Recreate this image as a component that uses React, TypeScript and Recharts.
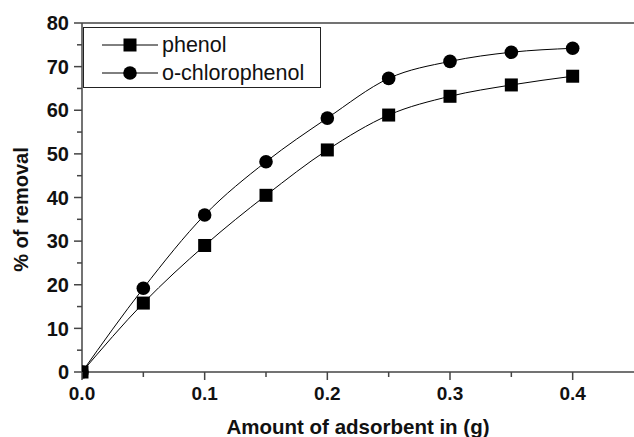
import React from 'react';
import { LineChart, Line, XAxis, YAxis, ReferenceLine, Label } from 'recharts';

const amounts = [0, 0.05, 0.1, 0.15, 0.2, 0.25, 0.3, 0.35, 0.4];
const phenol = [0, 15.8, 29.0, 40.5, 50.9, 58.9, 63.2, 65.8, 67.8];
const oChlorophenol = [0, 19.2, 36.0, 48.2, 58.2, 67.3, 71.2, 73.3, 74.2];

const xTicks = [0, 0.05, 0.1, 0.15, 0.2, 0.25, 0.3, 0.35, 0.4];
const yTicks = [0, 5, 10, 15, 20, 25, 30, 35, 40, 45, 50, 55, 60, 65, 70, 75, 80];

const seriesNames = ['phenol', 'o-chlorophenol'];

const data = amounts.map((x, i) => ({ x, phenol: phenol[i], ocp: oChlorophenol[i] }));

const FONT = '"Liberation Sans", Arial, sans-serif';
const AXIS = '#444';

const SquareDot = (props: any) => {
  const { cx, cy } = props;
  if (cx == null || cy == null) return null;
  return <rect x={cx - 6.5} y={cy - 6.5} width={13} height={13} fill="#000" />;
};

const CircleDot = (props: any) => {
  const { cx, cy } = props;
  if (cx == null || cy == null) return null;
  return <circle cx={cx} cy={cy} r={6.8} fill="#000" />;
};

const XTick = (props: any) => {
  const { x, y, payload } = props;
  const v = payload.value;
  const major = Math.abs(v * 10 - Math.round(v * 10)) < 1e-6;
  return (
    <g>
      <line x1={x} x2={x} y1={y} y2={y + (major ? 8 : 5)} stroke={AXIS} strokeWidth={1.5} />
      {major && (
        <text x={x} y={y + 28} textAnchor="middle" fontFamily={FONT} fontWeight="bold" fontSize={19} fill="#111">
          {v.toFixed(1)}
        </text>
      )}
    </g>
  );
};

const YTick = (props: any) => {
  const { x, y, payload } = props;
  const v = payload.value;
  const major = v % 10 === 0;
  return (
    <g>
      <line x1={x} x2={x - (major ? 8 : 5)} y1={y} y2={y} stroke={AXIS} strokeWidth={1.5} />
      {major && (
        <text x={x - 13} y={y} dy="0.36em" textAnchor="end" fontFamily={FONT} fontWeight="bold" fontSize={20} fill="#111">
          {v}
        </text>
      )}
    </g>
  );
};

const LegendBox = () => (
  <div
    style={{
      position: 'absolute',
      left: 83,
      top: 27,
      boxSizing: 'border-box',
      width: 238,
      height: 61,
      border: '1.5px solid #222',
      background: '#fff',
      paddingTop: 3,
    }}
  >
    {seriesNames.map((name, i) => (
      <div key={name} style={{ display: 'flex', alignItems: 'center', height: 28 }}>
        <svg width={78} height={28} style={{ display: 'block' }}>
          <line x1={18} x2={74} y1={14} y2={14} stroke="#000" strokeWidth={1} />
          {i === 0 ? (
            <rect x={39.5} y={7.5} width={13} height={13} fill="#000" />
          ) : (
            <circle cx={46} cy={14} r={6.8} fill="#000" />
          )}
        </svg>
        <span style={{ fontFamily: FONT, fontSize: 21.5, color: '#111', whiteSpace: 'nowrap' }}>{name}</span>
      </div>
    ))}
  </div>
);

export default function App() {
  return (
    <div style={{ position: 'absolute', left: 0, top: 0, width: 634, height: 437, background: '#fff' }}>
      <LineChart width={634} height={437} data={data} margin={{ top: 23, right: 0, bottom: 0, left: 0 }}>
        <XAxis
          type="number"
          dataKey="x"
          domain={[0, 0.45]}
          ticks={xTicks}
          interval={0}
          tickSize={0}
          tickMargin={0}
          tickLine={false}
          tick={<XTick />}
          height={65}
          axisLine={{ stroke: AXIS, strokeWidth: 1.5 }}
          allowDataOverflow
        >
          <Label
            content={(p: any) => {
              const vb = p.viewBox;
              return (
                <text x={vb.x + vb.width / 2} y={vb.y + 62} textAnchor="middle" fontFamily={FONT} fontWeight="bold" fontSize={20.5} fill="#111">
                  Amount of adsorbent in (g)
                </text>
              );
            }}
          />
        </XAxis>
        <YAxis
          type="number"
          domain={[0, 80]}
          ticks={yTicks}
          interval={0}
          tickSize={0}
          tickMargin={0}
          tickLine={false}
          tick={<YTick />}
          width={82}
          axisLine={{ stroke: AXIS, strokeWidth: 1.5 }}
        >
          <Label
            content={(p: any) => {
              const vb = p.viewBox;
              const cx = 21;
              const cy = vb.y + vb.height / 2 + 12;
              return (
                <text
                  x={cx}
                  y={cy}
                  dy="0.36em"
                  textAnchor="middle"
                  transform={`rotate(-90 ${cx} ${cy})`}
                  fontFamily={FONT}
                  fontWeight="bold"
                  fontSize={20}
                  fill="#111"
                >
                  % of removal
                </text>
              );
            }}
          />
        </YAxis>
        <ReferenceLine y={80} stroke={AXIS} strokeWidth={1.5} />
        <Line
          type="monotone"
          dataKey="phenol"
          name={seriesNames[0]}
          stroke="#000"
          strokeWidth={1}
          dot={<SquareDot />}
          activeDot={false}
          isAnimationActive={false}
        />
        <Line
          type="monotone"
          dataKey="ocp"
          name={seriesNames[1]}
          stroke="#000"
          strokeWidth={1}
          dot={<CircleDot />}
          activeDot={false}
          isAnimationActive={false}
        />
      </LineChart>
      <LegendBox />
    </div>
  );
}
